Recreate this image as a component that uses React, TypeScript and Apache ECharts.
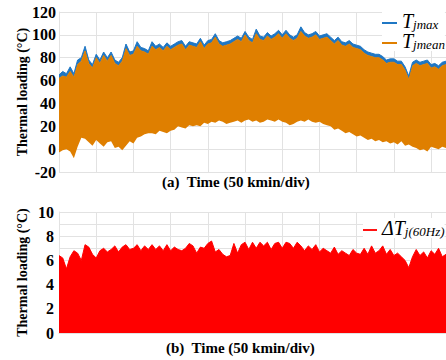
import React, { useEffect, useRef } from 'react';
import * as echarts from 'echarts';

// time samples (kmin), one every 5 kmin
const timeKmin: number[] = Array.from({ length: 105 }, (_, i) => i * 5);

// upper envelope of Tjmax (°C)
const tjmaxUpper: number[] = [
  65, 68, 66, 72, 66, 78, 80, 90, 78, 74, 83, 78, 85, 80, 85, 78, 76, 80, 92, 85,
  86, 94, 89, 88, 86, 94, 90, 92, 89, 93, 90, 92, 94, 95, 90, 94, 93, 92, 97, 91,
  95, 96, 101, 95,
  93, 94, 95, 97, 99, 97, 103, 98, 96, 105, 99, 98, 102, 99, 101, 104, 100, 104, 100, 98,
  100, 107, 102, 100, 101, 103, 99, 100, 101, 98, 95, 98, 94, 93, 95, 92, 91, 90, 87, 85,
  84, 83, 83, 81, 78, 79, 79, 77, 77, 72, 64, 76, 78, 76, 77, 78, 74, 75, 73, 76, 77,
];

// upper envelope of Tjmean (°C)
const tjmeanUpper: number[] = [
  62, 64, 63, 68, 63, 74, 77, 86, 75, 71, 80, 75, 82, 77, 82, 75, 73, 77, 88, 82,
  83, 90, 86, 85, 83, 90, 87, 89, 86, 90, 87, 89, 91, 92, 87, 91, 90, 89, 94, 88,
  92, 93, 98, 92,
  90, 91, 92, 94, 96, 94, 100, 95, 93, 101, 96, 95, 99, 96, 98, 101, 97, 101, 97, 95,
  97, 103, 99, 97, 98, 100, 96, 97, 98, 95, 92, 95, 91, 90, 92, 89, 88, 87, 84, 82,
  81, 80, 80, 78, 75, 76, 76, 74, 74, 69, 61, 73, 75, 73, 74, 75, 71, 72, 70, 73, 74,
];

// lower envelope of the thermal loading (°C)
const tjLower: number[] = [
  -3, -1, 0, -2, -8, 2, 10, 9, 6, 3, 8, 5, 2, 6, 7, 1, 2, -1, 3, 7,
  5, 10, 11, 13, 14, 14, 13, 16, 15, 14, 16, 17, 20, 19, 18, 21, 20, 21, 20, 23,
  22, 24, 23, 25,
  24, 22, 23, 24, 25, 23, 25, 26, 24, 25, 23, 24, 26, 25, 24, 26, 24, 23, 21, 22,
  24, 25, 24, 26, 24, 23, 24, 22, 21, 20, 17, 18, 16, 14, 15, 13, 11, 12, 10, 8,
  9, 7, 8, 6, 7, 5, 6, 4, 7, 3, 4, 2, 1, -1, 0, -2, 2, 1, 0, 2, 1,
];

// ΔTj(60Hz) upper envelope (°C)
const deltaTj: number[] = [
  6.4, 6.2, 5.3, 6.3, 6.8, 6.6, 6.0, 7.3, 7.1, 6.5, 6.2, 6.8, 7.0, 6.7, 6.9, 7.2, 6.7, 7.1, 7.3, 6.9,
  7.0, 7.3, 6.8, 7.2, 6.9, 7.3, 6.9, 7.2, 6.8, 7.3, 6.8, 7.1, 6.9, 6.8, 7.0, 7.4, 7.2, 6.6, 7.1, 7.0,
  7.4, 7.6, 6.7, 6.9,
  6.5, 6.3, 6.4, 7.4, 6.6, 7.3, 7.5, 6.9, 7.5, 7.0, 7.5, 7.2, 7.5, 6.9, 7.4, 7.5, 7.0, 7.5, 7.4, 7.0,
  7.5, 7.2, 6.8, 7.2, 6.9, 7.3, 6.7, 7.0, 6.8, 6.6, 7.1, 6.5, 6.8, 6.6, 6.4, 6.9, 6.6, 6.5, 7.0, 6.5,
  7.2, 6.6, 6.8, 7.2, 6.5, 6.9, 6.4, 6.6, 6.3, 6.0, 5.4, 6.3, 6.9, 6.4, 6.7, 6.2, 6.8, 6.5, 7.0, 6.3, 6.5,
];

const topTicks = { min: -20, max: 120, step: 20 };
const bottomTicks = { min: 0, max: 10, step: 1 };
const samplesPerDiv = 10; // 50 kmin per division

export default function App() {
  const ref = useRef<HTMLDivElement>(null);

  useEffect(() => {
    if (!ref.current) return;
    const chart = echarts.init(ref.current, null, { renderer: 'svg' });
    const serif = '"Liberation Serif", "Times New Roman", serif';
    const gridColor = '#e2e2e2';
    const blue = '#1f77c4';
    const orange = '#df7f00';
    const red = '#ff0000';
    const lineIcon = 'path://M0,0L15,0L15,2L0,2Z';

    const cats = timeKmin.map(String);
    const meanBand = tjmeanUpper.map((v, i) => v - tjLower[i]);
    const maxBand = tjmaxUpper.map((v, i) => v - tjmeanUpper[i]);

    const xAxisBase = (gridIndex: number) => ({
      type: 'category',
      gridIndex,
      data: cats,
      boundaryGap: false,
      axisLabel: { show: false },
      axisTick: { show: false },
      axisLine: { show: true, lineStyle: { color: gridColor } },
      splitLine: {
        show: true,
        interval: samplesPerDiv - 1,
        lineStyle: { color: gridColor, width: 1 },
      },
    });

    const labelStyle = {
      color: '#000',
      fontFamily: serif,
      fontWeight: 'bold',
      fontSize: 16,
    };
    const nameStyle = {
      color: '#000',
      fontFamily: serif,
      fontWeight: 'bold',
      fontSize: 14,
    };

    const legendRich = {
      t: {
        fontFamily: serif,
        fontStyle: 'italic',
        fontSize: 20,
        lineHeight: 16,
        verticalAlign: 'bottom',
        color: '#000',
      },
      s: {
        fontFamily: serif,
        fontStyle: 'italic',
        fontSize: 13,
        lineHeight: 16,
        verticalAlign: 'bottom',
        color: '#000',
      },
    };

    chart.setOption({
      animation: false,
      backgroundColor: '#fff',
      grid: [
        { left: 59, top: 12, width: 387, height: 160 },
        { left: 59, top: 212, width: 387, height: 121 },
      ],
      xAxis: [xAxisBase(0), xAxisBase(1)],
      yAxis: [
        {
          type: 'value',
          gridIndex: 0,
          min: topTicks.min,
          max: topTicks.max,
          interval: topTicks.step,
          axisLine: { show: true, lineStyle: { color: gridColor } },
          axisTick: { show: false },
          splitLine: { show: true, lineStyle: { color: gridColor } },
          axisLabel: { ...labelStyle, margin: 3 },
          name: 'Thermal loading (°C)',
          nameLocation: 'middle',
          nameGap: 30,
          nameMoveOverlap: false,
          nameTextStyle: nameStyle,
        },
        {
          type: 'value',
          gridIndex: 1,
          min: bottomTicks.min,
          max: bottomTicks.max,
          interval: bottomTicks.step,
          axisLine: { show: true, lineStyle: { color: gridColor } },
          axisTick: { show: false },
          splitLine: { show: true, lineStyle: { color: gridColor } },
          axisLabel: {
            ...labelStyle,
            margin: 5,
            formatter: (v: number) => (v % 2 === 0 ? String(v) : ''),
          },
          name: 'Thermal loading (°C)',
          nameLocation: 'middle',
          nameGap: 30,
          nameMoveOverlap: false,
          nameTextStyle: nameStyle,
        },
      ],
      legend: [
        {
          data: ['Tjmax', 'Tjmean'],
          orient: 'vertical',
          left: 382,
          top: 11,
          padding: 0,
          itemGap: 0,
          itemWidth: 15,
          itemHeight: 14,
          icon: lineIcon,
          backgroundColor: '#fff',
          formatter: (name: string) =>
            name === 'Tjmax' ? '{t|T}{s|jmax}' : '{t|T}{s|jmean}',
          textStyle: { rich: legendRich },
        },
        {
          data: ['ΔTj'],
          orient: 'vertical',
          left: 363,
          top: 218,
          padding: 0,
          itemWidth: 14,
          itemHeight: 14,
          icon: lineIcon,
          backgroundColor: '#fff',
          formatter: () => '{t|ΔT}{s|j(60Hz)}',
          textStyle: { rich: legendRich },
        },
      ],
      graphic: [
        {
          type: 'text',
          left: 162,
          top: 174,
          style: {
            text: '(a)  Time (50 kmin/div)',
            fontFamily: serif,
            fontWeight: 'bold',
            fontSize: 15,
            fill: '#000',
          },
        },
        {
          type: 'text',
          left: 166,
          top: 340,
          style: {
            text: '(b)  Time (50 kmin/div)',
            fontFamily: serif,
            fontWeight: 'bold',
            fontSize: 15,
            fill: '#000',
          },
        },
      ],
      series: [
        {
          name: 'base',
          type: 'line',
          xAxisIndex: 0,
          yAxisIndex: 0,
          data: tjLower,
          stack: 'tj',
          stackStrategy: 'all',
          symbol: 'none',
          silent: true,
          lineStyle: { width: 0, opacity: 0 },
        },
        {
          name: 'Tjmean',
          type: 'line',
          xAxisIndex: 0,
          yAxisIndex: 0,
          data: meanBand,
          stack: 'tj',
          stackStrategy: 'all',
          symbol: 'none',
          color: orange,
          itemStyle: { color: orange },
          lineStyle: { color: orange, width: 1 },
          areaStyle: { color: orange, opacity: 1 },
        },
        {
          name: 'Tjmax',
          type: 'line',
          xAxisIndex: 0,
          yAxisIndex: 0,
          data: maxBand,
          stack: 'tj',
          stackStrategy: 'all',
          symbol: 'none',
          color: blue,
          itemStyle: { color: blue },
          lineStyle: { color: blue, width: 1 },
          areaStyle: { color: blue, opacity: 1 },
        },
        {
          name: 'ΔTj',
          type: 'line',
          xAxisIndex: 1,
          yAxisIndex: 1,
          data: deltaTj,
          symbol: 'none',
          color: red,
          itemStyle: { color: red },
          lineStyle: { color: red, width: 1 },
          areaStyle: { color: red, opacity: 1 },
        },
      ],
    });

    return () => chart.dispose();
  }, []);

  return (
    <div
      ref={ref}
      style={{ position: 'fixed', left: 0, top: 0, width: 446, height: 360 }}
    />
  );
}
